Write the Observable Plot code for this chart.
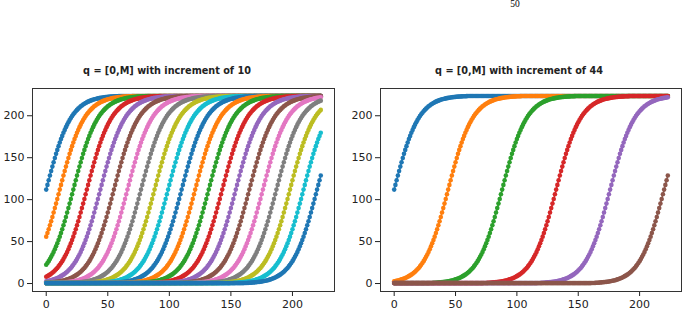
<!DOCTYPE html>
<html>
<head>
<meta charset="utf-8">
<script src="https://cdn.jsdelivr.net/npm/d3@7"></script>
<script src="https://cdn.jsdelivr.net/npm/@observablehq/plot@0.6"></script>
<style>
  html, body { margin: 0; padding: 0; background: #fff; }
  #fig { position: relative; width: 685px; height: 311px; overflow: hidden; background: #fff; }
  .panel { position: absolute; top: 0; }
  .title { position: absolute; font-family: "DejaVu Sans", sans-serif; font-weight: bold; font-size: 9.7px; color: #222; white-space: nowrap; transform: translateX(-50%); line-height: 1; }
  .pagenum { position: absolute; font-family: "Liberation Serif", serif; font-size: 9.5px; color: #000; transform: translateX(-50%); line-height: 1; }
</style>
</head>
<body>
<div id="fig"></div>
<script>
// Shape of one S-curve: value at (x - midpoint) = -60 ... 60
const profileStart = -60;
const profile = [
  0.5, 0.6, 0.7, 0.7, 0.8, 0.9, 1.0, 1.1, 1.2, 1.4,
  1.5, 1.7, 1.8, 2.0, 2.2, 2.5, 2.7, 3.0, 3.3, 3.7,
  4.0, 4.4, 4.9, 5.4, 6.0, 6.6, 7.2, 8.0, 8.8, 9.7,
  10.6, 11.7, 12.8, 14.1, 15.5, 17.0, 18.6, 20.4, 22.3, 24.4,
  26.7, 29.1, 31.8, 34.6, 37.6, 40.9, 44.3, 48.0, 51.8, 55.9,
  60.2, 64.7, 69.4, 74.3, 79.4, 84.6, 89.9, 95.3, 100.8, 106.4,
  112.0,
  117.6, 123.2, 128.7, 134.1, 139.4, 144.6, 149.7, 154.6, 159.3, 163.8,
  168.1, 172.2, 176.0, 179.7, 183.1, 186.4, 189.4, 192.2, 194.9, 197.3,
  199.6, 201.7, 203.6, 205.4, 207.0, 208.5, 209.9, 211.2, 212.3, 213.4,
  214.3, 215.2, 216.0, 216.8, 217.4, 218.0, 218.6, 219.1, 219.6, 220.0,
  220.3, 220.7, 221.0, 221.3, 221.5, 221.8, 222.0, 222.2, 222.3, 222.5,
  222.6, 222.8, 222.9, 223.0, 223.1, 223.2, 223.3, 223.3, 223.4, 223.5
];
// x positions sampled: 0 ... 223
const xFirst = 0;
const xLast = 223;
// midpoints (x where each curve crosses M/2)
const leftMidpoints = [0, 11, 22, 33, 44, 55, 66, 77, 88, 99, 110, 121, 132, 143, 154, 165, 176, 187, 198, 209, 220];
const rightMidpoints = [0, 44, 88, 132, 176, 220];
const titles = ["q = [0,M] with increment of 10", "q = [0,M] with increment of 44"];
const xTicks = [0, 50, 100, 150, 200];
const yTicks = [0, 50, 100, 150, 200];
const palette = ["#1f77b4", "#ff7f0e", "#2ca02c", "#d62728", "#9467bd", "#8c564b", "#e377c2", "#7f7f7f", "#bcbd22", "#17becf"];

function curve(mid) {
  const pts = [];
  for (let x = xFirst; x <= xLast; x++) {
    const k = Math.max(0, Math.min(profile.length - 1, x - mid - profileStart));
    pts.push({x, y: profile[k]});
  }
  return pts;
}

function panel(mids, layout) {
  const marks = [];
  mids.forEach((m, i) => {
    const data = curve(m);
    const c = palette[i % palette.length];
    marks.push(Plot.line(data, {x: "x", y: "y", stroke: c, strokeWidth: 1.5}));
    marks.push(Plot.dot(data, {x: "x", y: "y", fill: c, r: 2.3, stroke: "none"}));
  });
  marks.push(Plot.frame({stroke: "#333", strokeWidth: 1}));
  return Plot.plot({
    width: layout.width,
    height: 311,
    marginLeft: layout.ml,
    marginRight: layout.mr,
    marginTop: 88,
    marginBottom: 20,
    x: {domain: [-11.15, 234.15], ticks: xTicks, tickSize: 5, tickPadding: 4, label: null, tickFormat: d3.format("d")},
    y: {domain: [-9.5, 232.5], ticks: yTicks, tickSize: 5, tickPadding: 3, label: null, tickFormat: d3.format("d")},
    style: {fontFamily: "DejaVu Sans, sans-serif", fontSize: "11px", color: "#222", background: "transparent", overflow: "visible"},
    marks
  });
}

const fig = document.getElementById("fig");
const layouts = [
  {left: 0, width: 342, ml: 32, mr: 8, titleX: 167},
  {left: 342, width: 343, ml: 38, mr: 4, titleX: 519}
];
[leftMidpoints, rightMidpoints].forEach((mids, p) => {
  const L = layouts[p];
  const svg = panel(mids, L);
  svg.classList.add("panel");
  svg.style.left = L.left + "px";
  fig.appendChild(svg);
  const t = document.createElement("div");
  t.className = "title";
  t.textContent = titles[p];
  t.style.left = L.titleX + "px";
  t.style.top = "66px";
  fig.appendChild(t);
});
const pn = document.createElement("div");
pn.className = "pagenum";
pn.textContent = "50";
pn.style.left = "515px";
pn.style.top = "0px";
fig.appendChild(pn);
</script>
</body>
</html>
